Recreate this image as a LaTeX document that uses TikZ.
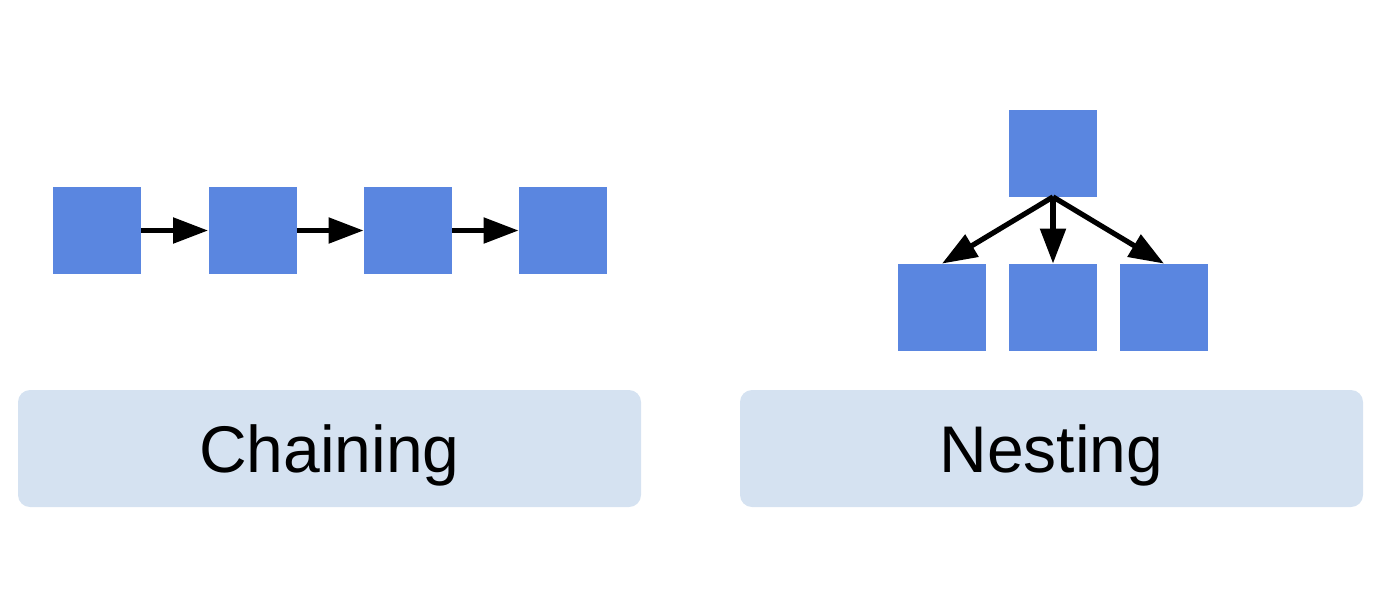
\documentclass[tikz,border=0pt]{standalone}
\usepackage{fontspec}
\setmainfont{Liberation Sans}
\usetikzlibrary{arrows.meta}
\definecolor{blockblue}{HTML}{5A86E0}
\definecolor{panelblue}{HTML}{D5E2F1}
\begin{document}
\begin{tikzpicture}[x=0.5pt,y=-0.5pt,
  block/.style={rectangle,fill=blockblue,draw=none,inner sep=0pt,
    minimum width=44pt,minimum height=43.5pt},
  link/.style={line width=2.6pt,-{Triangle[length=17.5pt,width=12.5pt]}},
  panel/.style={rectangle,rounded corners=6pt,fill=panelblue,draw=none,
    inner sep=0pt,minimum width=311.5pt,minimum height=58.5pt},
  caption/.style={font=\fontsize{33pt}{38pt}\selectfont,anchor=base,inner sep=0pt}]
  \useasboundingbox (0,0) rectangle (1380,612);

  % chaining: four blocks in a row
  \node[block] (c1) at (97,230.5) {};
  \node[block] (c2) at (252.5,230.5) {};
  \node[block] (c3) at (408,230.5) {};
  \node[block] (c4) at (563,230.5) {};
  \draw[link] (c1.east) -- (c2.west);
  \draw[link] (c2.east) -- (c3.west);
  \draw[link] (c3.east) -- (c4.west);

  % nesting: one parent, three children
  \node[block] (p) at (1053,153) {};
  \node[block] (n1) at (942,307.5) {};
  \node[block] (n2) at (1053,307.5) {};
  \node[block] (n3) at (1164,307.5) {};
  \draw[link] (p.south) -- (n1.north);
  \draw[link] (p.south) -- (n2.north);
  \draw[link] (p.south) -- (n3.north);

  % captions
  \node[panel] (lp) at (329.5,448.5) {};
  \node[panel] (rp) at (1051.5,448.5) {};
  \node[caption] (lt) at (329.5,472) {Chaining};
  \node[caption] (rt) at (1051.5,472) {Nesting};
\end{tikzpicture}
\end{document}
